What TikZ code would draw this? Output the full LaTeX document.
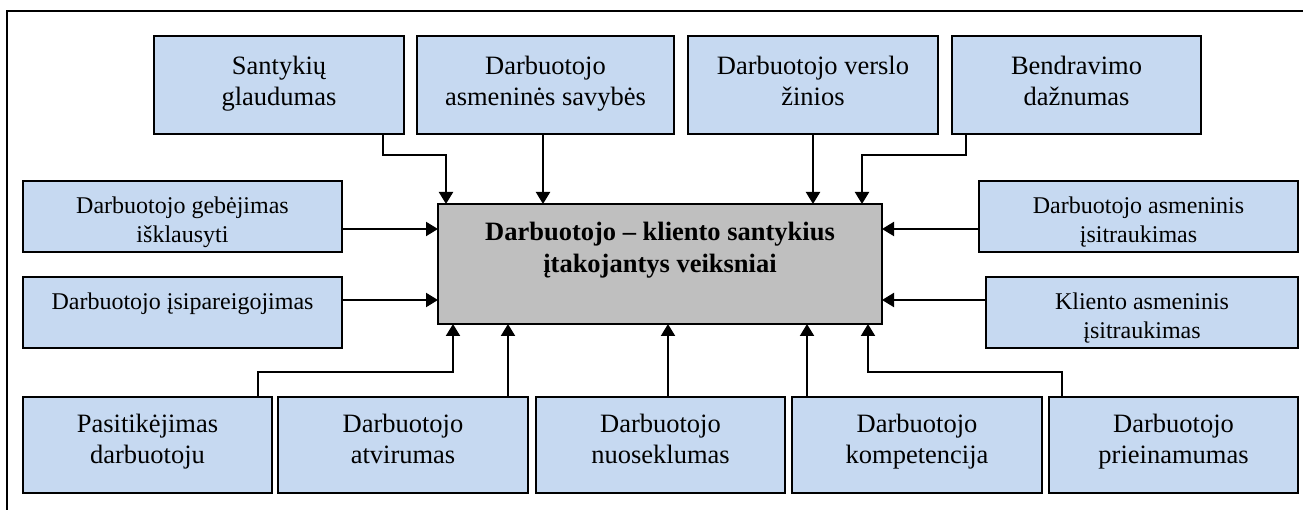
\documentclass[tikz,border=0pt]{standalone}
\usepackage{fontspec}
\setmainfont{Liberation Serif}
\usetikzlibrary{arrows.meta}
\definecolor{boxblue}{HTML}{C6D9F1}
\definecolor{hubgray}{HTML}{BFBFBF}

\begin{document}
\begin{tikzpicture}[x=1pt,y=-1pt,
  factor/.style={draw=black, line width=1.5pt, fill=boxblue, inner sep=0pt, outer sep=0pt},
  hub/.style={draw=black, line width=1.5pt, fill=hubgray, inner sep=0pt, outer sep=0pt},
  bigtxt/.style={anchor=north, inner sep=0pt, align=center, font=\fontsize{26.5}{31}\selectfont},
  smalltxt/.style={anchor=north, inner sep=0pt, align=center, font=\fontsize{24}{29}\selectfont},
  hubtxt/.style={anchor=north, inner sep=0pt, align=center, font=\fontsize{26.5}{32}\selectfont\bfseries},
  conn/.style={line width=2pt, -{Triangle[width=14pt,length=12pt]}},
  frame/.style={line width=1.5pt},
]
\useasboundingbox (0,0) rectangle (1303,510);

% outer frame (top and left edges)
\draw[frame] (7,530) -- (7,11) -- (1320,11);

% central box
\node[hub, minimum width=444pt, minimum height=120pt] (c) at (660,264) {};
\node[hubtxt] (ctxt) at ([yshift=-18pt]c.north) {Darbuotojo – kliento santykius\\įtakojantys veiksniai};

% top row
\node[factor, minimum width=250pt, minimum height=98pt] (t1) at (279,85) {};
\node[factor, minimum width=257pt, minimum height=98pt] (t2) at (545.5,85) {};
\node[factor, minimum width=250pt, minimum height=98pt] (t3) at (813,85) {};
\node[factor, minimum width=249pt, minimum height=98pt] (t4) at (1076.5,85) {};
\node[bigtxt] (t1txt) at ([yshift=-20pt]t1.north) {Santykių\\glaudumas};
\node[bigtxt] (t2txt) at ([yshift=-20pt]t2.north) {Darbuotojo\\asmeninės savybės};
\node[bigtxt] (t3txt) at ([yshift=-20pt]t3.north) {Darbuotojo verslo\\žinios};
\node[bigtxt] (t4txt) at ([yshift=-20pt]t4.north) {Bendravimo\\dažnumas};

% left column
\node[factor, minimum width=319pt, minimum height=71pt] (l1) at (182.5,216.5) {};
\node[factor, minimum width=319pt, minimum height=71pt] (l2) at (182.5,312.5) {};
\node[smalltxt] (l1txt) at ([yshift=-16pt]l1.north) {Darbuotojo gebėjimas\\išklausyti};
\node[smalltxt] (l2txt) at ([yshift=-16pt]l2.north) {Darbuotojo įsipareigojimas};

% right column
\node[factor, minimum width=319pt, minimum height=71pt] (r1) at (1138.5,216.5) {};
\node[factor, minimum width=312pt, minimum height=71pt] (r2) at (1142,312.5) {};
\node[smalltxt] (r1txt) at ([yshift=-16pt]r1.north) {Darbuotojo asmeninis\\įsitraukimas};
\node[smalltxt] (r2txt) at ([yshift=-16pt]r2.north) {Kliento asmeninis\\įsitraukimas};

% bottom row
\node[factor, minimum width=249pt, minimum height=96pt] (b1) at (147.5,445) {};
\node[factor, minimum width=250pt, minimum height=96pt] (b2) at (403,445) {};
\node[factor, minimum width=249pt, minimum height=96pt] (b3) at (660.5,445) {};
\node[factor, minimum width=250pt, minimum height=96pt] (b4) at (917,445) {};
\node[factor, minimum width=249pt, minimum height=96pt] (b5) at (1173.5,445) {};
\node[bigtxt] (b1txt) at ([yshift=-17pt]b1.north) {Pasitikėjimas\\darbuotoju};
\node[bigtxt] (b2txt) at ([yshift=-17pt]b2.north) {Darbuotojo\\atvirumas};
\node[bigtxt] (b3txt) at ([yshift=-17pt]b3.north) {Darbuotojo\\nuoseklumas};
\node[bigtxt] (b4txt) at ([yshift=-17pt]b4.north) {Darbuotojo\\kompetencija};
\node[bigtxt] (b5txt) at ([yshift=-17pt]b5.north) {Darbuotojo\\prieinamumas};

% elbow points
\coordinate (k1) at (446,155);
\coordinate (k4) at (862,155);
\coordinate (k5) at (453,372);
\coordinate (k9) at (868,372);

% connectors from the top row
\draw[conn] ([xshift=104pt]t1.south) |- (k1) -- (k1 |- c.north);
\draw[conn] ([xshift=-2.5pt]t2.south) -- ++(0,70);
\draw[conn] (t3.south) -- (t3.south |- c.north);
\draw[conn] ([xshift=-110.5pt]t4.south) |- (k4) -- (k4 |- c.north);

% connectors from the side columns
\draw[conn] (l1.east |- 0,229) -- (c.west |- 0,229);
\draw[conn] (l2.east |- 0,300) -- (c.west |- 0,300);
\draw[conn] (r1.west |- 0,229) -- (c.east |- 0,229);
\draw[conn] (r2.west |- 0,300) -- (c.east |- 0,300);

% connectors from the bottom row
\draw[conn] ([xshift=110.5pt]b1.north) |- (k5) -- (k5 |- c.south);
\draw[conn] ([xshift=105pt]b2.north) -- ++(0,-73);
\draw[conn] ([xshift=7.5pt]b3.north) -- ++(0,-73);
\draw[conn] ([xshift=-110pt]b4.north) -- ++(0,-73);
\draw[conn] ([xshift=-111.5pt]b5.north) |- (k9) -- (k9 |- c.south);
\end{tikzpicture}
\end{document}
